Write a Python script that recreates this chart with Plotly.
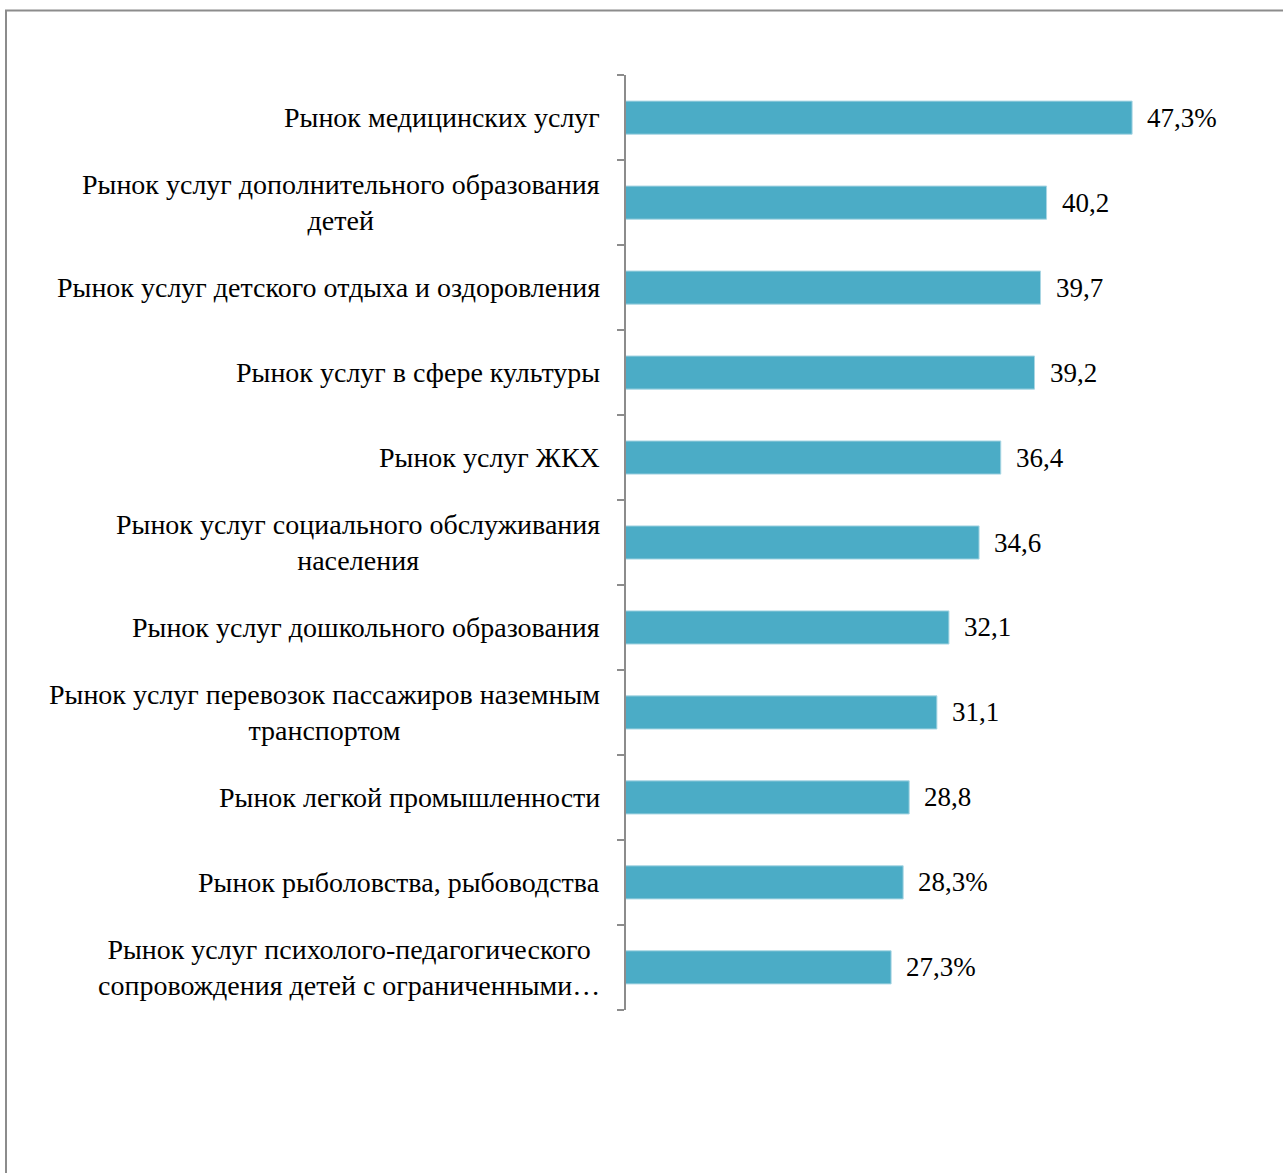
import plotly.graph_objects as go

categories = [
    "Рынок медицинских услуг",
    "Рынок услуг дополнительного образования<br>детей",
    "Рынок услуг детского отдыха и оздоровления",
    "Рынок услуг в сфере культуры",
    "Рынок услуг ЖКХ",
    "Рынок услуг социального обслуживания<br>населения",
    "Рынок услуг дошкольного образования",
    "Рынок услуг перевозок пассажиров наземным<br>транспортом",
    "Рынок легкой промышленности",
    "Рынок рыболовства, рыбоводства",
    "Рынок услуг психолого-педагогического<br>сопровождения детей с ограниченными…",
]
values = [47.3, 40.2, 39.7, 39.2, 36.4, 34.6, 32.1, 31.1, 28.8, 28.3, 27.3]
value_labels = ["47,3%", "40,2", "39,7", "39,2", "36,4", "34,6", "32,1", "31,1", "28,8", "28,3%", "27,3%"]

W, H = 1283, 1173
L, R, T, B = 626, 1250, 75, 1010
FONT = "Liberation Serif"
FS_LABEL = 28
FS_VALUE = 27

n = len(categories)
pos = list(range(n))

fig = go.Figure()
fig.add_trace(go.Bar(
    x=values, y=pos, orientation="h",
    marker=dict(color="#4BACC6", line=dict(color="#A9D6E3", width=1)),
    width=0.39, hoverinfo="skip",
))

annotations = []
for i, (c, v, lab) in enumerate(zip(categories, values, value_labels)):
    annotations.append(dict(
        x=0, xref="paper", y=i, yref="y", text=c, showarrow=False,
        xanchor="right", yanchor="middle", align="center", xshift=-24,
        font=dict(family=FONT, size=FS_LABEL, color="#000000"),
    ))
    annotations.append(dict(
        x=v, xref="x", y=i, yref="y", text=lab, showarrow=False,
        xanchor="left", yanchor="middle", xshift=13,
        font=dict(family=FONT, size=FS_VALUE, color="#000000"),
    ))

def px_x(p):
    return (p - L) / (R - L)

def px_y(p):
    return (B - p) / (B - T)

fig.update_layout(
    width=W, height=H,
    margin=dict(l=L, r=W - R, t=T, b=H - B, pad=0),
    paper_bgcolor="white", plot_bgcolor="white",
    showlegend=False,
    annotations=annotations,
    xaxis=dict(range=[5.3, 5.3 + (R - L) / 12.05], visible=False, showgrid=False, zeroline=False),
    yaxis=dict(
        autorange=False,
        range=[n - 0.5 + 0.002, -0.5 - 0.002],
        tickmode="array",
        tickvals=[k - 0.5 for k in range(n + 1)],
        showticklabels=False,
        showgrid=False, zeroline=False,
        showline=True, linecolor="#8C8C8C", linewidth=1.5,
        ticks="outside", ticklen=7, tickcolor="#8C8C8C", tickwidth=1.5,
    ),
    shapes=[dict(
        type="rect", xref="paper", yref="paper",
        x0=px_x(6), x1=px_x(1320), y0=px_y(1220), y1=px_y(10.5),
        line=dict(color="#8C8C8C", width=2), fillcolor="rgba(0,0,0,0)",
        layer="below",
    )],
)

fig.write_html("out.html", config={"displayModeBar": False},
               post_script="document.body.style.margin='0px';")
